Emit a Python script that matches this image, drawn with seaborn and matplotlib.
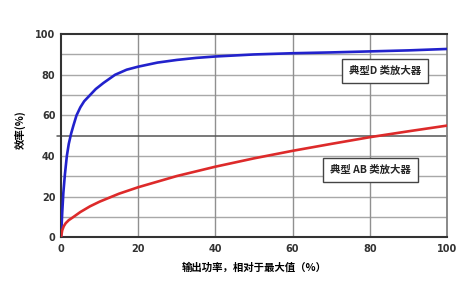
import matplotlib
matplotlib.use("Agg")
import matplotlib.pyplot as plt
import seaborn as sns
import pandas as pd

# Data
d_x = [0, 0.3, 0.6, 1.0, 1.5, 2.0, 2.6, 3.2, 4.0, 5.0, 6.0, 7.5, 9.0, 11.0, 14.0, 17.0, 20.0, 25.0, 30.0, 35.0, 40.0, 50.0, 60.0, 70.0, 80.0, 90.0, 100.0]
d_y = [0, 12, 22, 31, 40, 46, 51, 55, 60, 64, 67, 70, 73, 76, 80, 82.5, 84, 86, 87.3, 88.3, 89, 90, 90.6, 91, 91.5, 92, 92.7]
ab_x = [0, 0.3, 0.7, 1.2, 2.0, 3.0, 5.0, 7.5, 10.0, 15.0, 20.0, 30.0, 40.0, 50.0, 60.0, 70.0, 80.0, 90.0, 100.0]
ab_y = [0, 3.5, 5.5, 7.0, 8.5, 9.8, 12.5, 15.3, 17.6, 21.5, 24.7, 30.2, 34.8, 38.9, 42.6, 46.0, 49.3, 52.2, 55.0]
x_ticks = [0, 20, 40, 60, 80, 100]
y_ticks = [0, 20, 40, 60, 80, 100]
label_d = "典型D 类放大器"
label_ab = "典型 AB 类放大器"
x_label = "输出功率，相对于最大值（%）"
y_label = "效率(%)"

sns.set_theme(style="white")
plt.rcParams['font.family'] = ['Noto Sans CJK SC', 'DejaVu Sans']

fig = plt.figure(figsize=(4.66, 2.82), dpi=100)
ax = fig.add_axes([0.131, 0.158, 0.828, 0.721])

df_d = pd.DataFrame({"x": d_x, "y": d_y})
df_ab = pd.DataFrame({"x": ab_x, "y": ab_y})

# grid
for yv in range(10, 100, 10):
    if yv == 50:
        continue
    ax.axhline(yv, color="#a8a8a8", lw=1.0, zorder=1)
for xv in [20, 40, 60, 80]:
    ax.axvline(xv, color="#909090", lw=1.0, zorder=1)
ax.plot([-1.0, 100], [50, 50], color="#555555", lw=1.1, zorder=1, clip_on=False)

sns.lineplot(data=df_d, x="x", y="y", ax=ax, color="#2222cc", lw=1.9, zorder=3)
sns.lineplot(data=df_ab, x="x", y="y", ax=ax, color="#dd2a2a", lw=1.9, zorder=3)

ax.set_xlim(0, 100)
ax.set_ylim(0, 100)
ax.set_xticks(x_ticks)
ax.set_yticks(y_ticks)
ax.tick_params(axis="both", labelsize=7, colors="#333333", length=2.5, width=1, pad=1.5)
for lab in ax.get_xticklabels() + ax.get_yticklabels():
    lab.set_fontweight("bold")
    lab.set_family("DejaVu Sans")
ax.tick_params(axis="x", pad=2)

for side in ["left", "bottom", "top"]:
    ax.spines[side].set_color("#333333")
    ax.spines[side].set_linewidth(1.5)
ax.spines["right"].set_color("#808080")
ax.spines["right"].set_linewidth(1.3)

ax.set_xlabel(x_label, fontsize=7.5, fontweight="bold", color="black", labelpad=6)
ax.set_ylabel("")
fig.text(0.045, 0.54, y_label, rotation=90, fontsize=7.5, fontweight="bold",
         ha="center", va="center", color="black")

box = dict(boxstyle="square,pad=0.7", facecolor="white", edgecolor="#444444", lw=1.0)
ax.text(0.746, 0.818, label_d, transform=ax.transAxes, fontsize=7.5, fontweight="bold",
        va="center", ha="left", bbox=box, zorder=5)
ax.text(0.697, 0.332, label_ab, transform=ax.transAxes, fontsize=7.5, fontweight="bold",
        va="center", ha="left", bbox=box, zorder=5)

fig.savefig("out.png", dpi=100, facecolor="white")
